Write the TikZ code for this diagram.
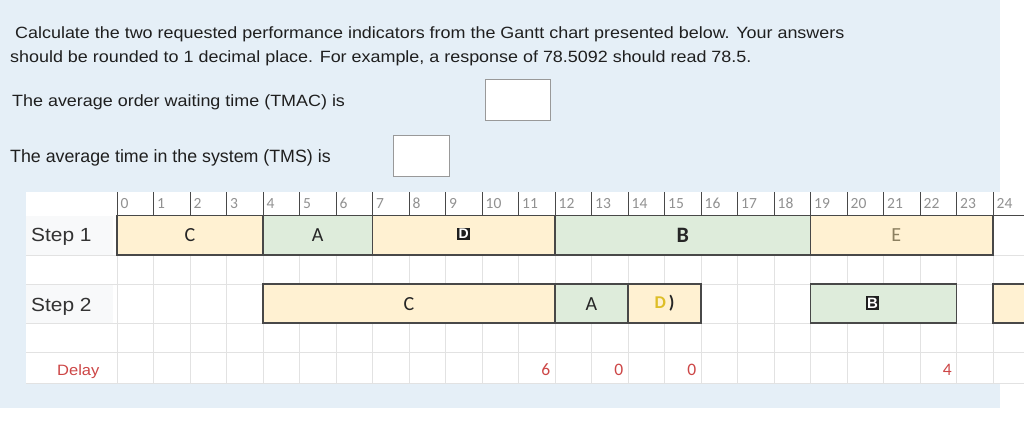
\documentclass[tikz,border=0pt]{standalone}
\usepackage{fontspec}
\setmainfont{Liberation Sans}
\newfontfamily\widesans[FakeStretch=1.1]{Liberation Sans}
\newfontfamily\chartfont{Carlito}
\usetikzlibrary{positioning}

\definecolor{panel}{RGB}{229,239,247}
\definecolor{labelbg}{RGB}{248,249,250}
\definecolor{barO}{RGB}{255,241,210}
\definecolor{barG}{RGB}{222,236,219}
\definecolor{gridc}{RGB}{226,226,226}
\definecolor{edgec}{RGB}{72,72,72}
\definecolor{tickgray}{RGB}{145,145,145}
\definecolor{delayred}{RGB}{205,70,70}
\definecolor{dyellow}{RGB}{222,190,40}
\definecolor{egray}{RGB}{140,128,96}

\begin{document}
\begin{tikzpicture}[x=1pt,y=-1pt,
  qtext/.style={anchor=base west, inner sep=0pt, text=black!88,
    font=\widesans\fontsize{16.3}{19}\selectfont},
  ansbox/.style={draw=black!40, fill=white, line width=1.2pt,
    minimum width=#1, minimum height=41pt, inner sep=0pt},
  rowlab/.style={anchor=base west, inner sep=0pt, text=black!80},
  bar/.style={draw=edgec, line width=1.1pt},
  tick/.style={anchor=base west, inner sep=0pt, xshift=3.5pt, text=tickgray,
    font=\chartfont\fontsize{15.5}{17}\selectfont},
  blab/.style={inner sep=0pt, text=black!85, font=\chartfont\fontsize{20}{22}\selectfont},
  dark/.style={fill=black!88, text=white, inner sep=1.5pt,
    font=\bfseries\fontsize{14}{16}\selectfont},
  delayval/.style={anchor=base east, inner sep=0pt, xshift=-4.5pt, text=delayred,
    font=\chartfont\fontsize{17.5}{19}\selectfont}]

% page and panel
\useasboundingbox (0,0) rectangle (1024,436);
\fill[white] (0,0) rectangle (1024,436);
\fill[panel] (0,0) rectangle (1000,408);
\fill[white] (26,192) rectangle (1024,383);
\fill[labelbg] (26,215.5) rectangle (113,255);
\fill[labelbg] (26,284) rectangle (113,323);

% question text
\node[qtext] (q1) at (15,39) {Calculate the two requested performance indicators from the Gantt chart presented below. Your answers};
\node[qtext] (q2) at (10,62.5) {should be rounded to 1 decimal place. For example, a response of 78.5092 should read 78.5.};
\node[qtext] (tmac) at (12,106) {The average order waiting time (TMAC) is};
\node[qtext, font=\fontsize{17.8}{20}\selectfont] (tms) at (10,162.3) {The average time in the system (TMS) is};
\node[ansbox=65pt] (boxtmac) at (517.8,100) {};
\node[ansbox=56pt] (boxtms) at (421.2,156) {};

% row labels
\node[rowlab, font=\widesans\fontsize{19}{21}\selectfont] (step1) at (31,241.7) {Step 1};
\node[rowlab, font=\widesans\fontsize{19}{21}\selectfont] (step2) at (31,311.7) {Step 2};
\node[rowlab, text=delayred, font=\widesans\fontsize{15}{17}\selectfont] (delay) at (57,375.7) {Delay};

\begin{scope}[shift={(117,0)}, x=36.5pt]
  % grid
  \foreach \t in {0,...,24}
    \draw[gridc] (\t,215) -- (\t,383);
  \foreach \yy in {255,284,323,352,383}
    \draw[gridc] (-2.49,\yy) -- (24.85,\yy);
  % time axis
  \foreach \t in {0,...,24} {
    \draw[edgec, line width=0.9pt] (\t,192) -- (\t,215.5);
    \node[tick] (t\t) at (\t,208.5) {\t};
  }
  \draw[edgec, line width=1.1pt] (0,215.5) -- (24.85,215.5);

  % step 1
  \foreach \a/\b/\c in {0/4/barO, 4/7/barG, 7/12/barO, 12/19/barG, 19/24/barO}
    \draw[bar, fill=\c] (\a,215.5) rectangle (\b,255);
  % step 2
  \foreach \a/\b/\c in {4/12/barO, 12/14/barG, 14/16/barO, 19/23/barG}
    \draw[bar, fill=\c] (\a,284) rectangle (\b,323);
  \fill[barO] (24,284) rectangle (24.85,323);
  \draw[bar] (24.85,284) -- (24,284) -- (24,323) -- (24.85,323);

  % job labels
  \node[blab] (c1) at (2,235.5) {C};
  \node[blab] (a1) at (5.5,235.5) {A};
  \node[dark] (d1) at (9.5,234) {D};
  \node[blab, font=\chartfont\bfseries\fontsize{22}{24}\selectfont] (b1) at (15.5,235) {B};
  \node[blab, text=egray] (e1) at (21.35,235.5) {E};
  \node[blab] (c2) at (8,304) {C};
  \node[blab] (a2) at (13,304.5) {A};
  \node[blab, font=\chartfont\bfseries\fontsize{18}{20}\selectfont] (d2) at (15,303.5)
    {\textcolor{dyellow}{D}\,)};
  \node[dark, font=\bfseries\fontsize{15}{17}\selectfont] (b2) at (20.7,303) {B};

  % delays
  \node[delayval] (w1) at (12,375.5) {6};
  \node[delayval] (w2) at (14,375.5) {0};
  \node[delayval] (w3) at (16,375.5) {0};
  \node[delayval] (w4) at (23,375.5) {4};
\end{scope}
\end{tikzpicture}
\end{document}
